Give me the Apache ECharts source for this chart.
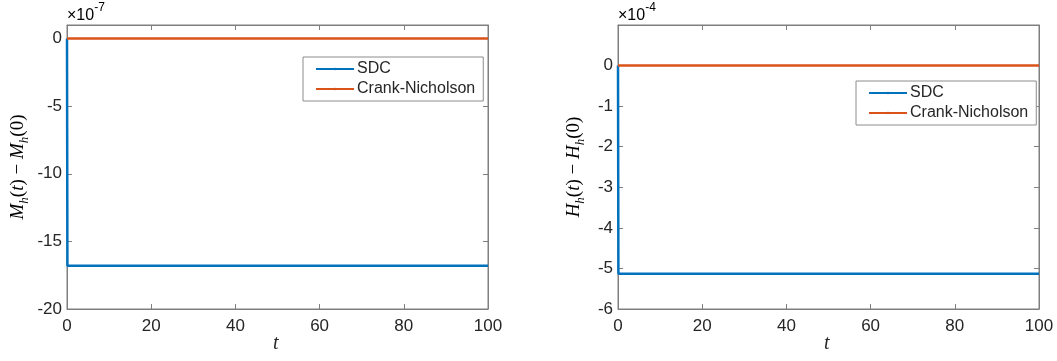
<!DOCTYPE html>
<html><head><meta charset="utf-8">
<script src="https://cdn.jsdelivr.net/npm/echarts@6/dist/echarts.min.js"></script>
<style>html,body{margin:0;padding:0;background:#fff}#c{width:1057px;height:361px}</style>
</head><body><div id="c"></div>
<script>
// Data (values in units of the axis exponent)
const tLeft = [0, 0.1, 100];
const sdcMass = [0, -16.8, -16.8];          // ×10^-7
const cnMass = [0, 0, 0];
const tRight = [0, 0.1, 100];
const sdcEnergy = [0, -5.13, -5.13];        // ×10^-4
const cnEnergy = [0, 0, 0];
const xTicks = [0, 20, 40, 60, 80, 100];
const leftYTicks = [0, -5, -10, -15, -20];
const rightYTicks = [0, -1, -2, -3, -4, -5, -6];

const FONT = 'Liberation Sans, Arial, Helvetica, sans-serif';
const SERIF = '"Liberation Serif", "DejaVu Serif", serif';
const BLUE = '#0072BD', ORANGE = '#D95319';
const AX = '#7f7f7f', TXT = '#262626';

function pairs(x, y){ return x.map((v,i)=>[v,y[i]]); }

const grids = [
  {left:67, right:569, top:25, bottom:52, show:true, borderColor:AX, borderWidth:1},
  {left:618, right:18, top:25, bottom:52, show:true, borderColor:AX, borderWidth:1}
];

function xAx(g, top){
  return {type:'value', gridIndex:g, min:0, max:100, interval:20, position: top?'top':'bottom',
    axisLine:{show:true, onZero:false, lineStyle:{color:AX}}, axisTick:{show:true, inside:true, length:5, lineStyle:{color:AX}},
    axisLabel:{show:!top, color:TXT, fontSize:17, fontFamily:FONT, margin:9},
    splitLine:{show:false}};
}
function yAx(g, right, min, max, interval){
  return {type:'value', gridIndex:g, min:min, max:max, interval:interval, position: right?'right':'left',
    axisLine:{show:true, onZero:false, lineStyle:{color:AX}}, axisTick:{show:true, inside:true, length:5, lineStyle:{color:AX}},
    axisLabel:{show:!right, color:TXT, fontSize:17, fontFamily:FONT, margin:5, showMaxLabel:false},
    splitLine:{show:false}};
}

const lineSeries = (name, x, y, color, xi, yi) => ({
  type:'line', name:name, xAxisIndex:xi, yAxisIndex:yi, data:pairs(x,y), symbol:'none',
  lineStyle:{color:color, width:2.5}, itemStyle:{color:color}, animation:false, z:3
});

const legendCommon = {orient:'vertical', show:true, backgroundColor:'#fff', borderColor:'#8c8c8c', borderWidth:1,
  itemWidth:38, itemHeight:3, itemGap:4, padding:[4,8,4,12],
  textStyle:{color:TXT, fontSize:16, fontFamily:FONT, padding:[0,0,0,-2]}, data:['SDC','Crank-Nicholson'],
  selectedMode:false};

const supRich = {
  a:{fontSize:16, fontFamily:FONT, color:TXT, lineHeight:22, verticalAlign:'bottom'},
  s:{fontSize:12, fontFamily:FONT, color:TXT, verticalAlign:'top'}
};

function ylabRich(){
  return {
    i:{fontFamily:SERIF, fontStyle:'italic', fontSize:19, color:TXT, lineHeight:23, verticalAlign:'top'},
    n:{fontFamily:SERIF, fontSize:19, color:TXT, lineHeight:23, verticalAlign:'top'},
    b:{fontFamily:SERIF, fontStyle:'italic', fontSize:13, color:TXT, verticalAlign:'bottom'}
  };
}

const option = {
  animation:false,
  grid: grids,
  xAxis:[xAx(0,false), xAx(0,true), xAx(1,false), xAx(1,true)],
  yAxis:[yAx(0,false,-20,1,5), yAx(0,true,-20,1,5), yAx(1,false,-6,1,1), yAx(1,true,-6,1,1)],
  legend:[
    Object.assign({}, legendCommon, {left:303, top:57}),
    Object.assign({}, legendCommon, {left:856, top:81})
  ],
  series:[
    lineSeries('SDC', tLeft, sdcMass, BLUE, 0, 0),
    lineSeries('Crank-Nicholson', tLeft, cnMass, ORANGE, 0, 0),
    lineSeries('SDC', tRight, sdcEnergy, BLUE, 2, 2),
    lineSeries('Crank-Nicholson', tRight, cnEnergy, ORANGE, 2, 2)
  ],
  graphic:[
    {type:'text', left:67, top:2, style:{text:'{a|×10}{s|-7}', rich:supRich}},
    {type:'text', left:618, top:2, style:{text:'{a|×10}{s|-4}', rich:supRich}},
    {type:'text', left:273, top:334, style:{text:'t', font:'italic 20px ' + SERIF, fill:TXT}},
    {type:'text', left:824, top:334, style:{text:'t', font:'italic 20px ' + SERIF, fill:TXT}},
    {type:'text', x:20, y:167, rotation:Math.PI/2,
      style:{text:'{i|M}{b|h}{n|(}{i|t}{n|) − }{i|M}{b|h}{n|(0)}', align:'center', verticalAlign:'middle', rich:ylabRich()}},
    {type:'text', x:576, y:167, rotation:Math.PI/2,
      style:{text:'{i|H}{b|h}{n|(}{i|t}{n|) − }{i|H}{b|h}{n|(0)}', align:'center', verticalAlign:'middle', rich:ylabRich()}}
  ]
};
const chart = echarts.init(document.getElementById('c'), null, {renderer:'canvas'});
chart.setOption(option);
</script></body></html>
